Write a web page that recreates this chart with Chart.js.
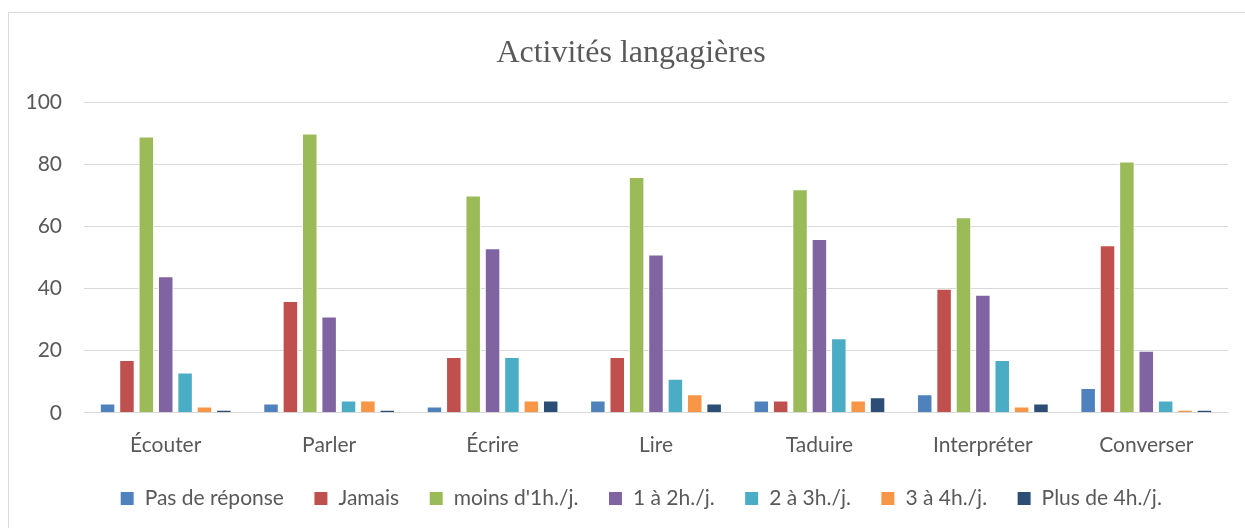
<!DOCTYPE html>
<html>
<head>
<meta charset="utf-8">
<script src="https://cdn.jsdelivr.net/npm/chart.js@4/dist/chart.umd.min.js"></script>
<style>
  html, body { margin: 0; padding: 0; background: #fff; overflow: hidden; }
  #wrap { position: absolute; left: 0; top: 0; width: 1245px; height: 528px; }
  #frame { position: absolute; left: 8px; top: 12px; width: 1260px; height: 540px;
           border-left: 1px solid #d9d9d9; border-top: 1px solid #d9d9d9; }
</style>
</head>
<body>
<div id="wrap">
  <div id="frame"></div>
  <canvas id="c" width="1245" height="528"></canvas>
</div>
<script>
const categories = ['Écouter', 'Parler', 'Écrire', 'Lire', 'Taduire', 'Interpréter', 'Converser'];
const seriesNames = ['Pas de réponse', 'Jamais', "moins d'1h./j.", '1 à 2h./j.', '2 à 3h./j.', '3 à 4h./j.', 'Plus de 4h./j.'];
const pasDeReponse = [3, 3, 2, 4, 4, 6, 8];
const jamais       = [17, 36, 18, 18, 4, 40, 54];
const moins1h      = [89, 90, 70, 76, 72, 63, 81];
const de1a2h       = [44, 31, 53, 51, 56, 38, 20];
const de2a3h       = [13, 4, 18, 11, 24, 17, 4];
const de3a4h       = [2, 4, 4, 6, 4, 2, 1];
const plus4h       = [1, 1, 4, 3, 5, 3, 1];
const yTicks = [0, 20, 40, 60, 80, 100];
const colors = ['#4F81BD', '#C0504D', '#9BBB59', '#8064A2', '#4BACC6', '#F79646', '#2C4D75'];

const values = [pasDeReponse, jamais, moins1h, de1a2h, de2a3h, de3a4h, plus4h];
const datasets = values.map((v, i) => ({
  label: seriesNames[i],
  data: v,
  backgroundColor: colors[i],
  borderColor: '#ffffff',
  borderWidth: 1,
  categoryPercentage: 0.83,
  barPercentage: 0.8
}));

const sans = "Lato, 'Open Sans', sans-serif";

// shifts title and legend horizontally (the reference centres them on the whole frame)
const shiftPlugin = {
  id: 'shiftBoxes',
  beforeDraw(chart) {
    const wrap = (box, dx) => {
      if (!box || box._shifted) return;
      const orig = box.draw;
      box.draw = function (area) {
        const c = this.ctx;
        c.save();
        c.translate(dx, 0);
        orig.call(this, area);
        c.restore();
      };
      box._shifted = true;
    };
    wrap(chart.titleBlock, 17);
    wrap(chart.legend, 27);
  }
};

new Chart(document.getElementById('c'), {
  type: 'bar',
  data: { labels: categories, datasets },
  plugins: [shiftPlugin],
  options: {
    responsive: false,
    animation: false,
    devicePixelRatio: 1,
    layout: { padding: { left: 0, right: 17, top: 0, bottom: 9 } },
    plugins: {
      title: {
        display: true,
        text: 'Activités langagières',
        color: '#595959',
        font: { family: "'Liberation Serif', 'Times New Roman', serif", size: 32, weight: 'normal' },
        padding: { top: 34, bottom: 30 }
      },
      legend: {
        position: 'bottom',
        labels: {
          color: '#595959',
          font: { family: sans, size: 21 },
          boxWidth: 14,
          boxHeight: 14,
          padding: 30
        }
      },
      tooltip: { enabled: false }
    },
    scales: {
      x: {
        grid: { display: false, drawTicks: false },
        border: { display: true, color: '#d9d9d9', width: 1 },
        ticks: { color: '#595959', font: { family: sans, size: 21 }, padding: 20 },
        afterFit: s => { s.height -= 20; }
      },
      y: {
        min: 0, max: 100,
        afterBuildTicks: s => { s.ticks = yTicks.map(v => ({ value: v })); },
        afterFit: s => { s.width = 84; },
        grid: { color: '#d9d9d9', lineWidth: 1, drawTicks: false },
        border: { display: false },
        ticks: { color: '#595959', font: { family: sans, size: 21 }, padding: 22 }
      }
    }
  }
});
</script>
</body>
</html>
